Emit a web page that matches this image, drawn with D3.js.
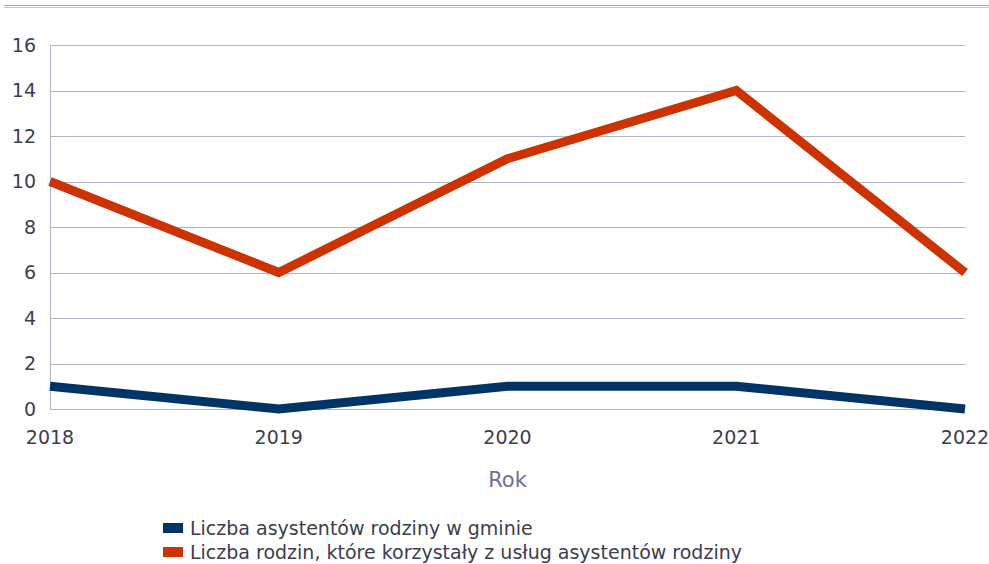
<!DOCTYPE html>
<html><head><meta charset="utf-8">
<script src="https://cdn.jsdelivr.net/npm/d3@7"></script>
<style>
body{margin:0;background:#fff;}
svg{display:block;}
</style></head>
<body>
<svg id="chart" width="989" height="564"></svg>
<script>
const years = ["2018","2019","2020","2021","2022"];
const assistants = [1, 0, 1, 1, 0];
const families = [10, 6, 11, 14, 6];
const yTicks = [0, 2, 4, 6, 8, 10, 12, 14, 16];
const seriesNames = ["Liczba asystentów rodziny w gminie", "Liczba rodzin, które korzystały z usług asystentów rodziny"];
const seriesColors = ["#003366", "#cc3300"];

const svg = d3.select("#chart");
const plotLeft = 50, plotRight = 965, plotTop = 45, plotBottom = 409;
const textColor = "#3d3d50";
const font = "'DejaVu Sans', Verdana, sans-serif";

// header rule
svg.append("line").attr("x1",4).attr("x2",989).attr("y1",5.5).attr("y2",5.5).attr("stroke","#a8a8bc").attr("stroke-width",1.2);
svg.append("line").attr("x1",4).attr("x2",989).attr("y1",7.5).attr("y2",7.5).attr("stroke","#c4c4d4").attr("stroke-width",1);

const x = d3.scalePoint().domain(years).range([plotLeft, plotRight]);
const y = d3.scaleLinear().domain([0, 16]).range([plotBottom, plotTop]);

// gridlines
svg.append("g").selectAll("line").data(yTicks).join("line")
  .attr("x1", plotLeft).attr("x2", plotRight)
  .attr("y1", d => Math.round(y(d)) + 0.5).attr("y2", d => Math.round(y(d)) + 0.5)
  .attr("stroke", "#b4b4c6").attr("stroke-width", 1);

// y axis line
svg.append("line").attr("x1", plotLeft + 0.5).attr("x2", plotLeft + 0.5).attr("y1", plotTop).attr("y2", plotBottom + 0.5)
  .attr("stroke", "#b4b4c6");

// y tick labels
svg.append("g").selectAll("text").data(yTicks).join("text")
  .attr("x", 36).attr("y", d => y(d)).attr("dy", "0.35em")
  .attr("text-anchor", "end")
  .attr("font-family", font).attr("font-size", 19)
  .attr("fill", textColor).text(d => d);

// x tick labels
svg.append("g").selectAll("text").data(years).join("text")
  .attr("x", d => x(d)).attr("y", 444)
  .attr("text-anchor", "middle")
  .attr("font-family", font).attr("font-size", 19)
  .attr("fill", textColor).text(d => d);

// axis title
svg.append("text").attr("x", (plotLeft + plotRight) / 2).attr("y", 487).attr("text-anchor", "middle")
  .attr("font-family", font).attr("font-size", 21)
  .attr("fill", "#6f6f98").text("Rok");

const line = d3.line().x((d, i) => x(years[i])).y(d => y(d));
[assistants, families].forEach((vals, i) => {
  svg.append("path").datum(vals).attr("d", line)
    .attr("fill", "none").attr("stroke", seriesColors[i]).attr("stroke-width", 9)
    .attr("stroke-linejoin", "miter");
});

// legend
const lg = svg.append("g");
seriesNames.forEach((name, i) => {
  const ly = 528 + i * 24;
  lg.append("rect").attr("x", 163).attr("y", ly - 5).attr("width", 20).attr("height", 10).attr("fill", seriesColors[i]);
  lg.append("text").attr("x", 190).attr("y", ly).attr("dy", "0.35em")
    .attr("font-family", font).attr("font-size", 19)
    .attr("fill", textColor).text(name);
});
</script>
</body></html>
